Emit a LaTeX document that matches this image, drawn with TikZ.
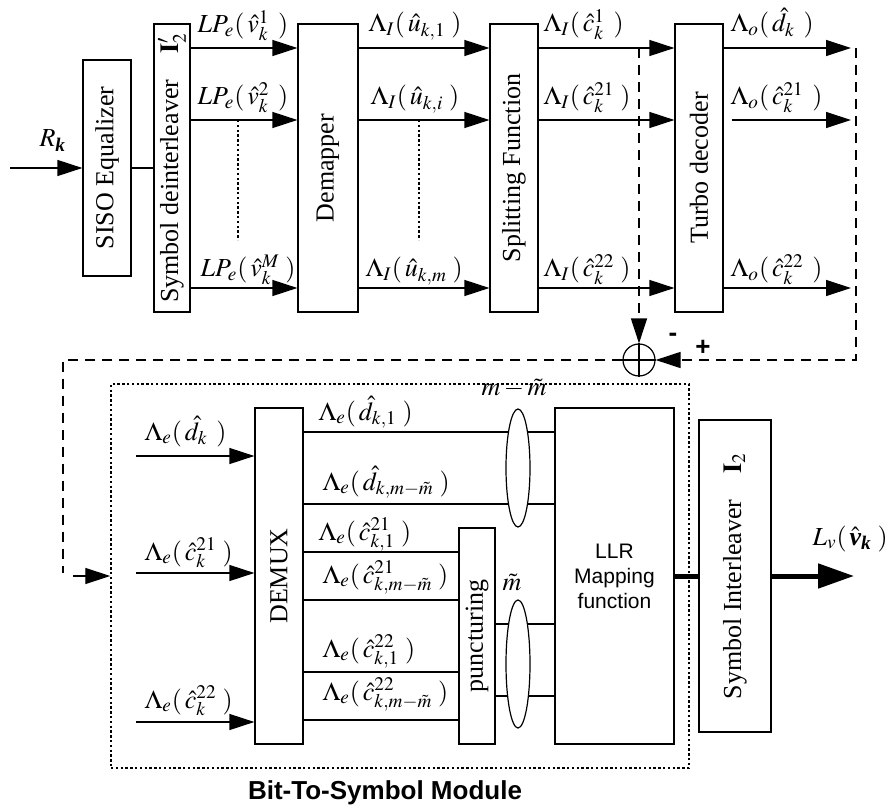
\documentclass[tikz,border=0pt]{standalone}
\usepackage{amsmath}
\usepackage{mathptmx}
\usepackage[no-math]{fontspec}
\setmainfont{Liberation Serif}
\setsansfont{Liberation Sans}
\usetikzlibrary{arrows.meta,shapes.geometric}

\begin{document}
\begin{tikzpicture}[x=0.5pt,y=-0.5pt,>={Triangle[length=12.5pt,width=8pt]},
  line width=0.6pt,font=\fontsize{13}{15}\selectfont,
  blk/.style={draw,inner sep=0pt,fill=white},
  lbl/.style={anchor=base west,inner sep=0pt},
  fb/.style={dash pattern=on 5pt off 3.5pt,line width=0.7pt},
  dots/.style={dash pattern=on 1.2pt off 1.2pt,line width=0.7pt},
  sgn/.style={font=\fontsize{13}{15}\sffamily\bfseries\selectfont,inner sep=0pt}]
\useasboundingbox (0,0) rectangle (895,808);
\node[blk,minimum width=24pt,minimum height=108pt,label={[rotate=90]center:SISO Equalizer}] (eq) at (107,168) {};
\node[blk,minimum width=18pt,minimum height=144pt,label={[rotate=90]center:Symbol deinterleaver\quad$\mathbf{I}'_2$}] (deint) at (172,168) {};
\node[blk,minimum width=30pt,minimum height=144pt,label={[rotate=90]center:Demapper}] (demap) at (328,168) {};
\node[blk,minimum width=24pt,minimum height=144pt,label={[rotate=90]center:Splitting Function}] (split) at (514,168) {};
\node[blk,minimum width=24pt,minimum height=144pt,label={[rotate=90]center:Turbo decoder}] (turbo) at (699,168) {};
\node[draw,circle,minimum size=16pt,inner sep=0pt] (sum) at (639,360) {};
\draw (sum.north) -- (sum.south) (sum.west) -- (sum.east);

\coordinate (rin) at (10,168);
\node[lbl] (rk) at (39,147) {$R_{\text{\bfseries\itshape k}}$};
\draw[->] (rin) -- (eq);
\draw (eq) -- (deint);
\foreach \y in {48,120,288} {
  \draw[->] (deint.east |- 0,\y) -- (demap.west |- 0,\y);
  \draw[->] (demap.east |- 0,\y) -- (split.west |- 0,\y);
  \draw[->] (split.east |- 0,\y) -- (turbo.west |- 0,\y);
}
\coordinate (o1) at (851,48);
\coordinate (o2) at (851,120);
\coordinate (o3) at (851,288);
\draw[->] (turbo.east |- o1) -- (o1);
\draw[->,shorten <=4pt] (turbo.east |- o2) -- (o2);
\draw[->] (turbo.east |- o3) -- (o3);
\draw[dots] (238,120) -- (238,240);
\draw[dots] (419,120) -- (419,240);

\node[lbl] (lp1) at (197,33) {$LP_e(\,\hat{v}_k^1\;\,)$};
\node[lbl] (lp2) at (197,105) {$LP_e(\,\hat{v}_k^2\;\,)$};
\node[lbl] (lpm) at (200,277) {$LP_e(\,\hat{v}_k^M\;)$};
\node[lbl] (lu1) at (368,32) {$\Lambda_I(\,\hat{u}_{k,1}\;)$};
\node[lbl] (lui) at (370,105) {$\Lambda_I(\,\hat{u}_{k,i}\;)$};
\node[lbl] (lum) at (365,277) {$\Lambda_I(\,\hat{u}_{k,m}\;)$};
\node[lbl] (lc1) at (543,32) {$\Lambda_I(\,\hat{c}_k^1\;\,)$};
\node[lbl] (lc21) at (543,105) {$\Lambda_I(\,\hat{c}_k^{21}\;)$};
\node[lbl] (lc22) at (543,277) {$\Lambda_I(\,\hat{c}_k^{22}\;)$};
\node[lbl] (lo1) at (730,32) {$\Lambda_o(\,\hat{d}_k\;\,)$};
\node[lbl] (lo21) at (730,105) {$\Lambda_o(\,\hat{c}_k^{21}\;\,)$};
\node[lbl] (lo22) at (730,277) {$\Lambda_o(\,\hat{c}_k^{22}\;\,)$};

\coordinate (tapL) at (639,48);
\coordinate (tapR) at (856,48);
\coordinate (cornR) at (856,360);
\coordinate (cornL) at (63,360);
\coordinate (fbend) at (63,573);
\draw[fb,->] (tapL) -- (sum.north);
\draw[fb,->] (tapR) -- (cornR) -- (sum.east);
\draw[fb] (sum.west) -- (cornL) -- (fbend);
\node[sgn] (minus) at (673,337) {-};
\node[sgn] (plus) at (703,348) {+};

\node[draw,dots,minimum width=289pt,minimum height=192pt,inner sep=0pt] (btsm) at (400,576) {};
\node[font=\fontsize{13}{15}\sffamily\bfseries\selectfont] (btsmlbl) at (385,793) {Bit-To-Symbol Module};
\coordinate (fbin) at (73,576);
\draw[->] (fbin) -- (btsm.west);

\node[blk,minimum width=24pt,minimum height=168pt,label={[rotate=90]center:DEMUX}] (demux) at (279,576) {};
\node[blk,minimum width=18pt,minimum height=108pt,label={[rotate=90]center:puncturing}] (punct) at (477,636) {};
\node[blk,minimum width=59.5pt,minimum height=168pt,align=center,font=\fontsize{10.5}{12.5}\sffamily\selectfont] (llr) at (614.5,576) {LLR\\Mapping\\function};
\node[blk,minimum width=36pt,minimum height=156pt,label={[rotate=90]center:Symbol Interleaver\quad$\mathbf{I}_2$}] (inter) at (735,576) {};

\coordinate (in1) at (136,456);
\coordinate (in2) at (136,573);
\coordinate (in3) at (136,722);
\foreach \c in {in1,in2,in3}
  \draw[->] (\c) -- (demux.west |- \c);
\node[lbl] (le1) at (144,440) {$\Lambda_e(\,\hat{d}_k\;\,)$};
\node[lbl] (le21) at (144,560) {$\Lambda_e(\,\hat{c}_k^{21}\;)$};
\node[lbl] (le22) at (144,708) {$\Lambda_e(\,\hat{c}_k^{22}\;)$};

\foreach \y in {432,504}
  \draw (demux.east |- 0,\y) -- (llr.west |- 0,\y);
\foreach \y in {552,600,672,720}
  \draw (demux.east |- 0,\y) -- (punct.west |- 0,\y);
\foreach \y in {624,696}
  \draw (punct.east |- 0,\y) -- (llr.west |- 0,\y);
\node[draw,ellipse,fill=white,minimum width=12pt,minimum height=59pt,inner sep=0pt] (grp1) at (518,468) {};
\node[draw,ellipse,fill=white,minimum width=12pt,minimum height=64pt,inner sep=0pt] (grp2) at (518,664) {};
\node[anchor=base,inner sep=0pt] (nm) at (514,395) {$m-\tilde{m}$};
\node[anchor=base,inner sep=0pt] (nt) at (512,590) {$\tilde{m}$};

\node[lbl] (ld1) at (318,420) {$\Lambda_e(\,\hat{d}_{k,1}\;)$};
\node[lbl] (ldm) at (322,490) {$\Lambda_e(\,\hat{d}_{k,m-\tilde{m}}\;)$};
\node[lbl] (lc211) at (318,540) {$\Lambda_e(\,\hat{c}_{k,1}^{21}\;)$};
\node[lbl] (lc21m) at (322,583) {$\Lambda_e(\,\hat{c}_{k,m-\tilde{m}}^{21}\;)$};
\node[lbl] (lc221) at (322,657) {$\Lambda_e(\,\hat{c}_{k,1}^{22}\;)$};
\node[lbl] (lc22m) at (322,700) {$\Lambda_e(\,\hat{c}_{k,m-\tilde{m}}^{22}\;)$};

\draw[line width=2.5pt] (llr) -- (inter);
\coordinate (lvout) at (854,576);
\draw[-{Triangle[length=18pt,width=12pt]},line width=2.5pt] (inter) -- (lvout);
\node[lbl] (lv) at (812,545) {$L_v(\,\hat{\text{\bfseries\itshape v}}_{\text{\bfseries\itshape k}}\;)$};
\end{tikzpicture}
\end{document}
